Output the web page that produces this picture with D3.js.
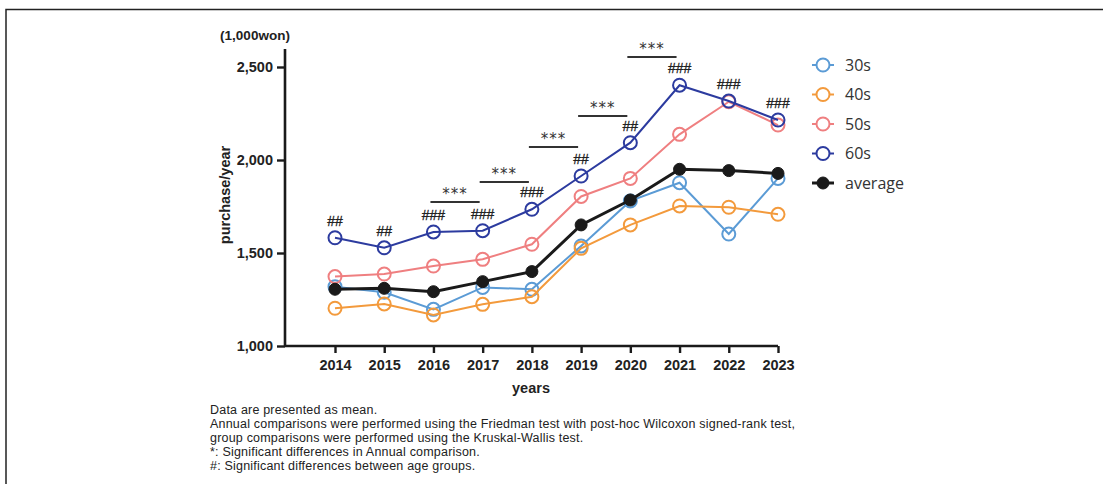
<!DOCTYPE html>
<html>
<head>
<meta charset="utf-8">
<script src="https://cdn.jsdelivr.net/npm/d3@7"></script>
<style>
  html, body { margin: 0; padding: 0; background: #fff; }
  svg { display: block; }
</style>
</head>
<body>
<svg id="chart" width="1103" height="484"></svg>
<script>
// Yearly purchase per person (1,000 won) by age group
const years = [2014, 2015, 2016, 2017, 2018, 2019, 2020, 2021, 2022, 2023];
const yTicks = [1000, 1500, 2000, 2500];

const s30 = [1319, 1289, 1197, 1315, 1305, 1538, 1780, 1878, 1602, 1901];
const s40 = [1203, 1226, 1167, 1224, 1265, 1525, 1651, 1753, 1746, 1708];
const s50 = [1373, 1387, 1430, 1466, 1547, 1804, 1901, 2138, 2313, 2188];
const s60 = [1582, 1528, 1613, 1620, 1735, 1914, 2093, 2402, 2317, 2215];
const avg = [1305, 1310, 1292, 1346, 1400, 1651, 1785, 1950, 1943, 1928];

// Between-group markers drawn above the 60s points
const groupMarks = ["##", "##", "###", "###", "###", "##", "##", "###", "###", "###"];

// Year-to-year comparison brackets: [from, to, level]
const annualFrom = [2016, 2017, 2018, 2019, 2020];
const annualTo = [2017, 2018, 2019, 2020, 2021];
const annualLevel = [1774, 1882, 2070, 2237, 2554];

const seriesNames = ["30s", "40s", "50s", "60s", "average"];
const seriesData = [s30, s40, s50, s60, avg];
const colors = ["#5b9bd5", "#f39a3c", "#ef7f80", "#2c3b9f", "#1a1a1a"];

const notes = [
  "Data are presented as mean.",
  "Annual comparisons were performed using the Friedman test with post-hoc Wilcoxon signed-rank test,",
  "group comparisons were performed using the Kruskal-Wallis test.",
  "*: Significant differences in Annual comparison.",
  "#: Significant differences between age groups."
];

const svg = d3.select("#chart");

// outer frame (top and left edges)
svg.append("path")
  .attr("d", "M6,484 L6,9.5 L1103,9.5")
  .attr("fill", "none").attr("stroke", "#222").attr("stroke-width", 1.5);

const x = d3.scaleLinear().domain([2014, 2023]).range([335, 778]);
const y = d3.scaleLinear().domain([1000, 2500]).range([346, 67]);
const axisX0 = 285;

const boldFont = "Liberation Sans, Arial, sans-serif";

// y axis
const yAxis = svg.append("g")
  .attr("transform", `translate(${axisX0},0)`)
  .call(d3.axisLeft(y).tickValues(yTicks).tickFormat(d3.format(",")).tickSize(8).tickPadding(4));
yAxis.select(".domain").attr("d", `M0,${y(1000)}V${y(2500) - 18}`);

// x axis
const xAxis = svg.append("g")
  .attr("transform", `translate(0,${y(1000)})`)
  .call(d3.axisBottom(x).tickValues(years).tickFormat(d3.format("d")).tickSize(7).tickPadding(7));
xAxis.select(".domain").attr("d", `M${axisX0},0H${x(2023)}`);

svg.selectAll(".domain").attr("stroke", "#1a1a1a").attr("stroke-width", 2.6);
svg.selectAll(".tick line").attr("stroke", "#1a1a1a").attr("stroke-width", 2.4);
svg.selectAll(".tick text")
  .attr("font-family", boldFont).attr("font-weight", "bold")
  .attr("font-size", 14.5).attr("fill", "#222");

// axis titles
svg.append("text").attr("x", 255).attr("y", 40).attr("text-anchor", "middle")
  .attr("font-family", boldFont).attr("font-weight", "bold").attr("font-size", 13.5)
  .attr("fill", "#222").text("(1,000won)");
svg.append("text").attr("transform", "translate(230,195) rotate(-90)")
  .attr("text-anchor", "middle")
  .attr("font-family", boldFont).attr("font-weight", "bold").attr("font-size", 14.5)
  .attr("fill", "#222").text("purchase/year");
svg.append("text").attr("x", 531).attr("y", 393).attr("text-anchor", "middle")
  .attr("font-family", boldFont).attr("font-weight", "bold").attr("font-size", 14.5)
  .attr("fill", "#222").text("years");

// series lines and markers
const line = d3.line().x((d, i) => x(years[i])).y(d => y(d));
seriesData.forEach((vals, si) => {
  const isAvg = si === 4;
  const g = svg.append("g");
  g.append("path").datum(vals)
    .attr("d", line).attr("fill", "none")
    .attr("stroke", colors[si]).attr("stroke-width", isAvg ? 3 : 2);
  g.selectAll("circle").data(vals).join("circle")
    .attr("cx", (d, i) => x(years[i])).attr("cy", d => y(d))
    .attr("r", isAvg ? 6 : 6.5)
    .attr("fill", isAvg ? colors[si] : "none")
    .attr("stroke", colors[si]).attr("stroke-width", isAvg ? 1 : 2);
});

// group difference markers
svg.append("g").selectAll("text").data(groupMarks).join("text")
  .attr("x", (d, i) => x(years[i]))
  .attr("y", (d, i) => y(s60[i]) - 12)
  .attr("text-anchor", "middle")
  .attr("font-family", boldFont).attr("font-size", 14)
  .attr("stroke", "#222").attr("stroke-width", 0.3)
  .attr("fill", "#222").text(d => d);

// annual comparison brackets
const brackets = svg.append("g");
annualFrom.forEach((a, i) => {
  const yy = y(annualLevel[i]);
  brackets.append("line")
    .attr("x1", x(a) - 3).attr("x2", x(annualTo[i]) - 3)
    .attr("y1", yy).attr("y2", yy)
    .attr("stroke", "#333").attr("stroke-width", 2);
  brackets.append("text")
    .attr("x", (x(a) + x(annualTo[i])) / 2 - 3).attr("y", yy - 3)
    .attr("text-anchor", "middle")
    .attr("font-family", "DejaVu Sans, sans-serif").attr("font-size", 15)
    .attr("letter-spacing", 1)
    .attr("fill", "#333").text("***");
});

// legend
const legend = svg.append("g");
seriesNames.forEach((name, i) => {
  const ly = 65 + i * 29.5;
  const isAvg = i === 4;
  legend.append("line").attr("x1", 812).attr("x2", 834).attr("y1", ly).attr("y2", ly)
    .attr("stroke", colors[i]).attr("stroke-width", isAvg ? 3 : 2);
  legend.append("circle").attr("cx", 823).attr("cy", ly).attr("r", isAvg ? 6 : 6.5)
    .attr("fill", isAvg ? colors[i] : "#fff")
    .attr("stroke", colors[i]).attr("stroke-width", isAvg ? 1 : 2);
  legend.append("text").attr("x", 845).attr("y", ly + 5.5)
    .attr("font-family", "Open Sans, Noto Sans, sans-serif").attr("font-size", 16)
    .attr("fill", "#333").text(name);
});

// footnotes
svg.append("g").selectAll("text").data(notes).join("text")
  .attr("x", 210).attr("y", (d, i) => 414 + i * 14)
  .attr("font-family", "Liberation Sans, Arial, sans-serif").attr("font-size", 12.5)
  .attr("letter-spacing", 0.2)
  .attr("fill", "#222").text(d => d);
</script>
</body>
</html>
